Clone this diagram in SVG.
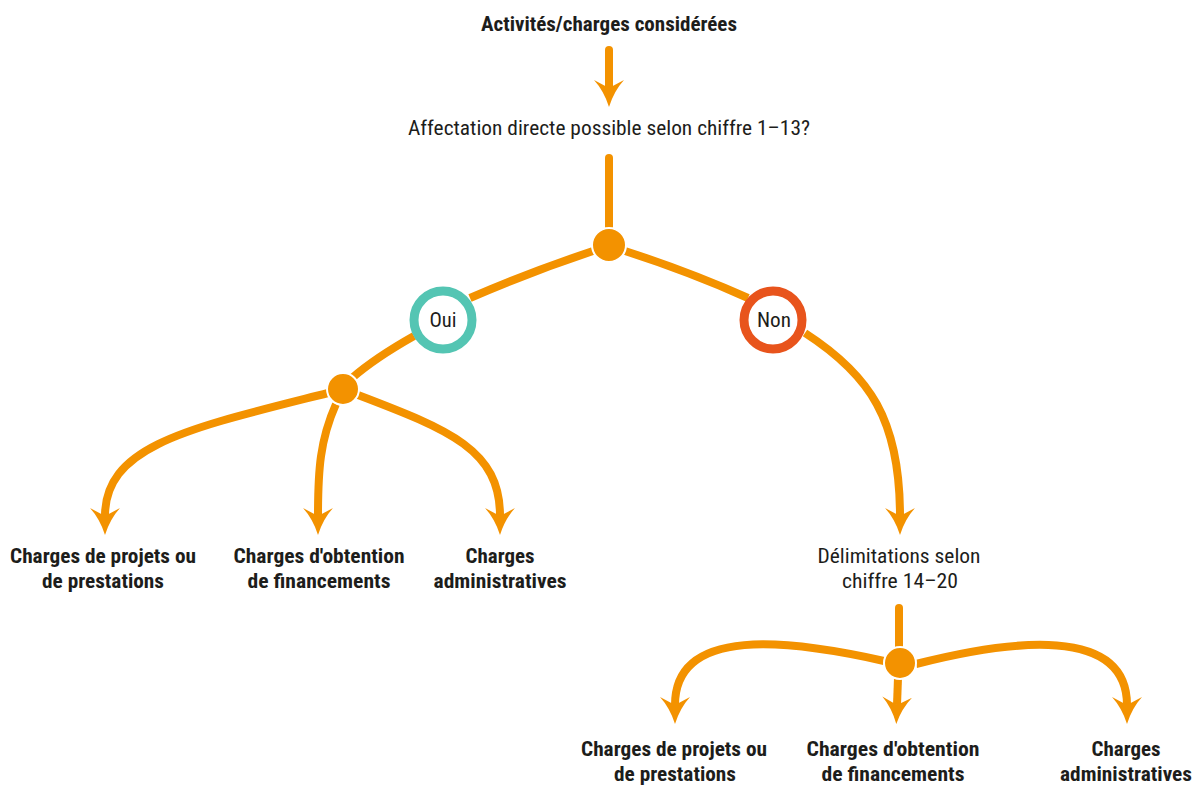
<svg xmlns="http://www.w3.org/2000/svg" width="1201" height="787" viewBox="0 0 1201 787">
<style>
.t{font-family:"Roboto Condensed",Roboto,"Liberation Sans Narrow","Liberation Sans",sans-serif;font-size:20px;fill:#1d1d1b;text-anchor:middle}
.b{font-weight:bold}
.c{fill:none;stroke:#F39200;stroke-width:8}
.dot{fill:#F39200;stroke:#fff;stroke-width:2}
</style>
<defs>
<marker id="ah" viewBox="0 -15 27 30" markerWidth="27" markerHeight="30" refX="8" refY="0" orient="auto" markerUnits="userSpaceOnUse">
<path d="M27,0 Q11,-5 0,-15 L8,0 L0,15 Q11,5 27,0 Z" fill="#F39200"/>
</marker>
</defs>
<rect width="1201" height="787" fill="#fff"/>
<g id="connectors">
<path class="c" d="M609,50 V88" stroke-linecap="round" marker-end="url(#ah)"/>
<path class="c" d="M609,158 V230" stroke-linecap="round"/>
<path class="c" d="M593,251 Q530,272 470,298"/>
<path class="c" d="M625,251 Q690,272 748,298"/>
<path class="c" d="M414,336 Q375,358 352,378"/>
<path class="c" d="M328,393 C190,428 105,445 105,516" marker-end="url(#ah)"/>
<path class="c" d="M336,404 C320,440 318,470 318,516" marker-end="url(#ah)"/>
<path class="c" d="M358,395 C450,430 500,450 500,516" marker-end="url(#ah)"/>
<path class="c" d="M805,333 C870,375 900,420 900,516" marker-end="url(#ah)"/>
<path class="c" d="M899,608 V648" stroke-linecap="round"/>
<path class="c" d="M884,661 C790,640 675,625 675,705" marker-end="url(#ah)"/>
<path class="c" d="M898,678 L897,705" marker-end="url(#ah)"/>
<path class="c" d="M916,664 C1010,640 1127,625 1127,705" marker-end="url(#ah)"/>
</g>
<g id="title"><text class="t b" x="609" y="31" textLength="256" lengthAdjust="spacingAndGlyphs">Activités/charges considérées</text></g>
<g id="question"><text class="t" x="609" y="135" textLength="402" lengthAdjust="spacingAndGlyphs">Affectation directe possible selon chiffre 1–13?</text></g>
<g id="junction1"><circle class="dot" cx="609" cy="245" r="17"/></g>
<g id="oui"><circle cx="443" cy="320" r="29" fill="#fff" stroke="#54C5B3" stroke-width="9"/><text class="t" x="443" y="327" textLength="27" lengthAdjust="spacingAndGlyphs">Oui</text></g>
<g id="non"><circle cx="773" cy="320" r="29" fill="#fff" stroke="#E8541C" stroke-width="9"/><text class="t" x="774" y="327" textLength="34" lengthAdjust="spacingAndGlyphs">Non</text></g>
<g id="junction2"><circle class="dot" cx="343" cy="389" r="16"/></g>
<g id="oui-projets"><text class="t b" x="103" y="563" textLength="186" lengthAdjust="spacingAndGlyphs">Charges de projets ou</text><text class="t b" x="103" y="588" textLength="122" lengthAdjust="spacingAndGlyphs">de prestations</text></g>
<g id="oui-financements"><text class="t b" x="319" y="563" textLength="171" lengthAdjust="spacingAndGlyphs">Charges d'obtention</text><text class="t b" x="319" y="588" textLength="143" lengthAdjust="spacingAndGlyphs">de financements</text></g>
<g id="oui-admin"><text class="t b" x="500" y="563" textLength="69" lengthAdjust="spacingAndGlyphs">Charges</text><text class="t b" x="500" y="588" textLength="133" lengthAdjust="spacingAndGlyphs">administratives</text></g>
<g id="delimitations"><text class="t" x="899" y="563" textLength="163" lengthAdjust="spacingAndGlyphs">Délimitations selon</text><text class="t" x="900" y="588" textLength="116" lengthAdjust="spacingAndGlyphs">chiffre 14–20</text></g>
<g id="junction3"><circle class="dot" cx="900" cy="663" r="16"/></g>
<g id="non-projets"><text class="t b" x="674" y="756" textLength="186" lengthAdjust="spacingAndGlyphs">Charges de projets ou</text><text class="t b" x="675" y="781" textLength="122" lengthAdjust="spacingAndGlyphs">de prestations</text></g>
<g id="non-financements"><text class="t b" x="893" y="756" textLength="173" lengthAdjust="spacingAndGlyphs">Charges d'obtention</text><text class="t b" x="893" y="781" textLength="143" lengthAdjust="spacingAndGlyphs">de financements</text></g>
<g id="non-admin"><text class="t b" x="1126" y="756" textLength="69" lengthAdjust="spacingAndGlyphs">Charges</text><text class="t b" x="1126" y="781" textLength="132" lengthAdjust="spacingAndGlyphs">administratives</text></g>
</svg>
